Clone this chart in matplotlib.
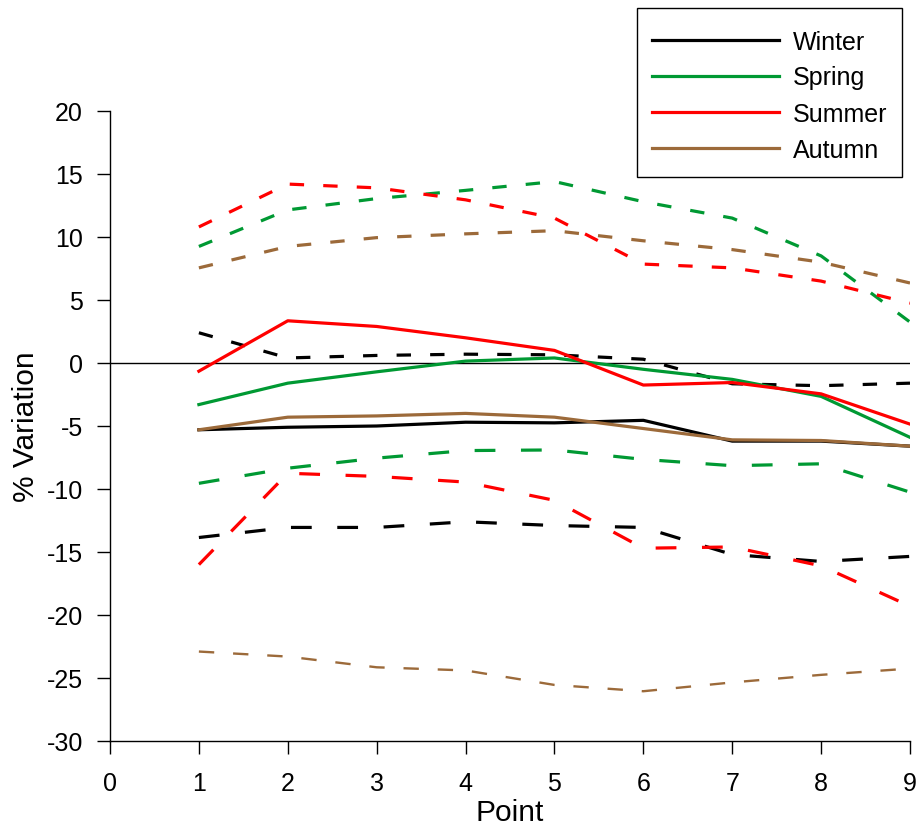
import numpy as np
import matplotlib.pyplot as plt
from matplotlib.patches import Rectangle

plt.rcParams['font.family'] = ['Liberation Sans', 'DejaVu Sans']
plt.rcParams['axes.unicode_minus'] = False

points = np.arange(1, 10)
seasons = ["Winter", "Spring", "Summer", "Autumn"]
colors = ["#000000", "#009933", "#FF0000", "#9C6A3A"]

# mean variation per point
winter = [-5.3, -5.1, -5.0, -4.7, -4.75, -4.55, -6.2, -6.2, -6.6]
spring = [-3.3, -1.6, -0.7, 0.15, 0.4, -0.5, -1.3, -2.65, -5.9]
summer = [-0.65, 3.35, 2.9, 2.0, 1.0, -1.75, -1.55, -2.45, -4.85]
autumn = [-5.3, -4.3, -4.2, -4.0, -4.3, -5.2, -6.1, -6.15, -6.6]

# upper envelope
winter_hi = [2.4, 0.4, 0.6, 0.7, 0.65, 0.3, -1.65, -1.8, -1.6]
spring_hi = [9.25, 12.15, 13.05, 13.7, 14.4, 12.8, 11.5, 8.5, 3.25]
summer_hi = [10.8, 14.2, 13.9, 12.95, 11.5, 7.85, 7.55, 6.5, 4.75]
autumn_hi = [7.55, 9.25, 9.95, 10.25, 10.5, 9.7, 9.0, 8.0, 6.35]

# lower envelope
winter_lo = [-13.85, -13.05, -13.05, -12.6, -12.9, -13.05, -15.2, -15.75, -15.35]
spring_lo = [-9.55, -8.35, -7.55, -6.95, -6.9, -7.65, -8.15, -8.0, -10.25]
summer_lo = [-16.0, -8.75, -9.0, -9.45, -10.9, -14.7, -14.6, -16.1, -19.3]
autumn_lo = [-22.9, -23.3, -24.15, -24.4, -25.55, -26.05, -25.35, -24.75, -24.25]

means = [winter, spring, summer, autumn]
highs = [winter_hi, spring_hi, summer_hi, autumn_hi]
lows = [winter_lo, spring_lo, summer_lo, autumn_lo]

W, H = 919, 828
fig = plt.figure(figsize=(W / 100, H / 100), dpi=100)
ax = fig.add_axes([110 / W, 1 - 742 / H, 800 / W, 630 / H])

ax.axhline(0, color="black", lw=1.0, zorder=1)

handles = []
for name, c, m, hi, lo in zip(seasons, colors, means, highs, lows):
    h, = ax.plot(points, m, color=c, lw=2.3, label=name, zorder=3)
    handles.append(h)
    ax.plot(points, hi, color=c, lw=2.3, dashes=(4.5, 6), zorder=2)
    lw_lo = 1.7 if name == "Autumn" else 2.3
    ax.plot(points, lo, color=c, lw=lw_lo, dashes=(6.5, 8), zorder=2)

ax.set_xlim(0, 9)
ax.set_ylim(-30, 20)
ax.set_xticks(range(0, 10))
ax.set_yticks(range(-30, 21, 5))
ax.spines['top'].set_visible(False)
ax.spines['right'].set_visible(False)
ax.spines['left'].set_linewidth(1.0)
ax.spines['bottom'].set_linewidth(1.0)
ax.tick_params(direction='out', length=9.5, width=1.0, labelsize=18)
ax.tick_params(axis='y', pad=10)
ax.tick_params(axis='x', pad=12)
ax.set_xlabel("Point", fontsize=21.5, labelpad=2)
ax.set_ylabel("% Variation", fontsize=21.5, labelpad=5)

# legend box drawn as a plain rectangle, entries placed inside it
fig.patches.append(Rectangle((637 / W, 1 - 178 / H), 265 / W, 169 / H,
                             transform=fig.transFigure, fill=False,
                             edgecolor="black", lw=1.0))
fig.legend(handles=handles, loc='center',
           bbox_to_anchor=(769.5 / W, 1 - 96.5 / H), fontsize=18,
           handlelength=5.1, labelspacing=0.48, handletextpad=0.56,
           borderpad=0, frameon=False)

fig.savefig("out.png", dpi=100)
